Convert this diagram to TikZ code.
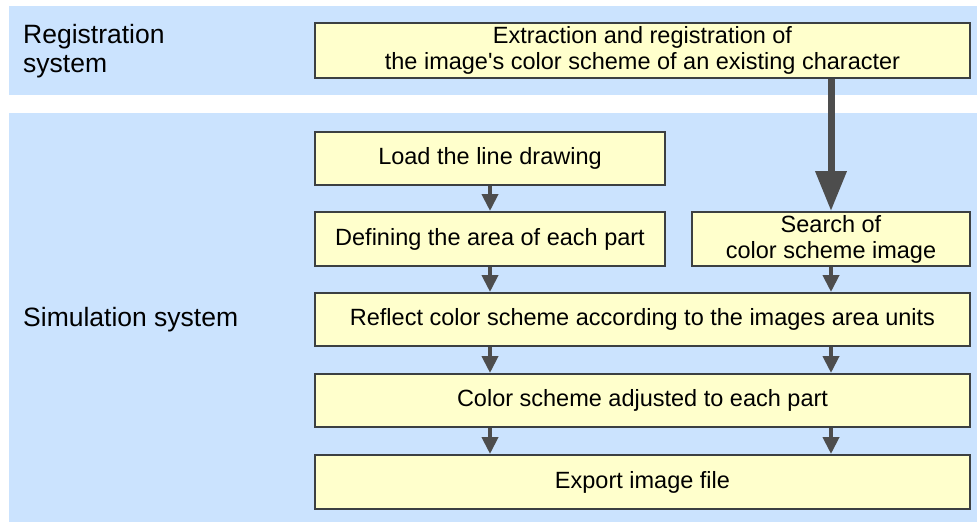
\documentclass[tikz,border=0pt]{standalone}
\usepackage{fontspec}
\setmainfont{Liberation Sans}
\usepackage{tikz}
\usetikzlibrary{arrows.meta}
\definecolor{bandblue}{RGB}{203,227,254}
\definecolor{boxyellow}{RGB}{255,255,204}
\definecolor{edgegray}{RGB}{60,64,66}
\definecolor{arrowgray}{RGB}{77,77,77}
\tikzstyle{stepbox}=[rectangle,draw=edgegray,fill=boxyellow,line width=2pt,
                     inner sep=0pt,align=center,
                     font=\fontsize{23.5}{26}\selectfont]
\tikzstyle{syslabel}=[anchor=west,inner sep=0pt,align=left,
                      font=\fontsize{26.5}{29}\selectfont]
\tikzstyle{flow}=[draw=arrowgray,line width=4pt,
                  -{Triangle[width=16pt,length=17pt]}]
\tikzstyle{bigflow}=[draw=arrowgray,line width=7pt,
                     -{Triangle[width=30pt,length=40pt]}]

\begin{document}
\begin{tikzpicture}[x=1pt,y=-1pt]
    \useasboundingbox (0,0) rectangle (977,522);
    % the two system bands
    \fill[bandblue] (9,6) rectangle (977,95);
    \fill[bandblue] (9,113) rectangle (977,522);
    \node (reglbl) at (23,51) [syslabel]{Registration\\system};
    \node (simlbl) at (23,320) [syslabel]{Simulation system};
    % process steps
    \node (ext) at (642.5,50.5) [stepbox,minimum width=655pt,minimum height=55pt]
        {Extraction and registration of\\the image\textquotesingle s color scheme of an existing character};
    \node (load) at (490,158.5) [stepbox,minimum width=350pt,minimum height=53pt]
        {Load the line drawing};
    \node (area) at (490,239) [stepbox,minimum width=350pt,minimum height=54pt]
        {Defining the area of each part};
    \node (search) at (831,239) [stepbox,minimum width=278pt,minimum height=54pt]
        {Search of\\color scheme image};
    \node (refl) at (642.5,319.5) [stepbox,minimum width=655pt,minimum height=53pt]
        {Reflect color scheme according to the images area units};
    \node (adj) at (642.5,400.5) [stepbox,minimum width=655pt,minimum height=53pt]
        {Color scheme adjusted to each part};
    \node (expo) at (642.5,482) [stepbox,minimum width=655pt,minimum height=54pt]
        {Export image file};
    % connectors
    \draw[bigflow] (ext.south -| search) -- (search.north);
    \draw[flow] (load) -- (area);
    \draw[flow] (area) -- (refl.north -| area);
    \draw[flow] (search) -- (refl.north -| search);
    \draw[flow] (refl.south -| area) -- (adj.north -| area);
    \draw[flow] (refl.south -| search) -- (adj.north -| search);
    \draw[flow] (adj.south -| area) -- (expo.north -| area);
    \draw[flow] (adj.south -| search) -- (expo.north -| search);
\end{tikzpicture}
\end{document}
